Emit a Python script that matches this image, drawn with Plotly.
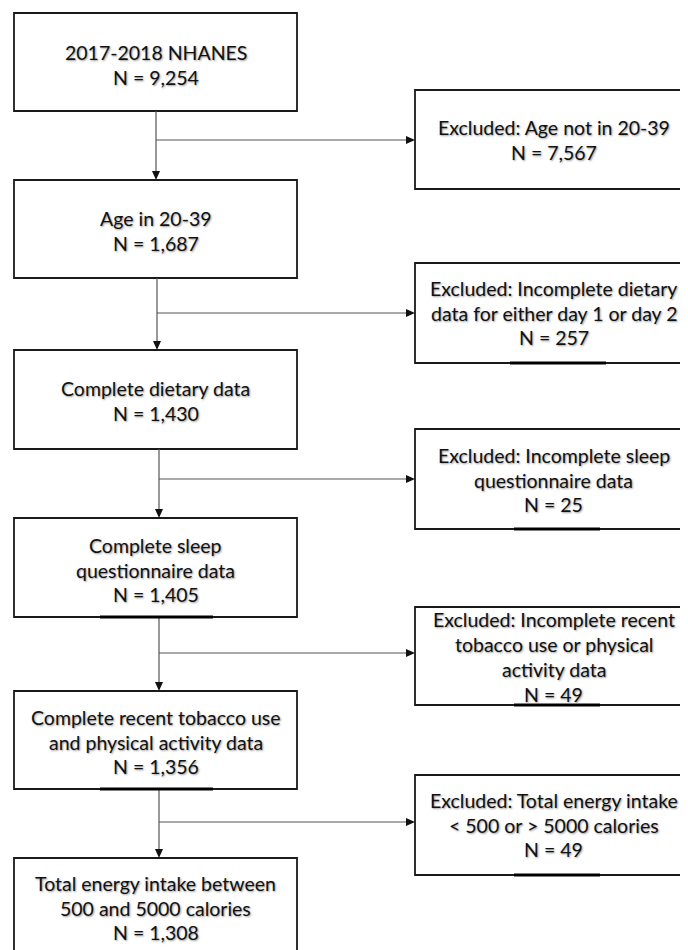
import plotly.graph_objects as go

# ---- data (text content) ----
main_labels = [
    "2017-2018 NHANES",
    "Age in 20-39",
    "Complete dietary data",
    "Complete sleep<br>questionnaire data",
    "Complete recent tobacco use<br>and physical activity data",
    "Total energy intake between<br>500 and 5000 calories",
]
main_n = [9254, 1687, 1430, 1405, 1356, 1308]

excl_labels = [
    "Excluded: Age not in 20-39",
    "Excluded: Incomplete dietary<br>data for either day 1 or day 2",
    "Excluded: Incomplete sleep<br>questionnaire data",
    "Excluded: Incomplete recent<br>tobacco use or physical<br>activity data",
    "Excluded: Total energy intake<br>&lt; 500 or &gt; 5000 calories",
]
excl_n = [7567, 257, 25, 49, 49]

# ---- layout geometry (page pixels, y downward) ----
W, H = 688, 950
OFF = 8  # html body margin
main_x = (14, 297)
main_y = [(13, 111), (180, 278), (350, 449), (518, 617), (691, 789), (858, 965)]
main_tc = [65, 231, 401, 570, 742, 908]
excl_x = (415, 692)
excl_y = [(90, 189), (263, 363), (429, 529), (607, 705), (775, 875)]
excl_tc = [140, 313, 480, 657, 825]
trunk_x = [156, 157, 159, 159, 159]
branch_y = [140, 313, 479, 653, 822]
underlines = [(100, 213, 617), (100, 213, 789), (510, 606, 363),
              (514, 600, 529), (514, 600, 705), (514, 600, 875)]

LINE_SP = 24.8
FONT = dict(family="Lato, 'Open Sans', sans-serif", size=19.5, color="#111111",
            shadow="1px 1px 2px #9a9a9a")
BOX_LINE = dict(color="#1a1a1a", width=1.8)
CONN_LINE = dict(color="#555555", width=1.2)

fig = go.Figure()
shapes = []
annotations = []


def add_text(lines, cx, cy):
    n = len(lines)
    for i, t in enumerate(lines):
        y = cy + (i - (n - 1) / 2) * LINE_SP
        annotations.append(dict(x=cx, y=y, xref="x", yref="y", text=t,
                                showarrow=False, xanchor="center",
                                yanchor="middle", font=FONT))


# main boxes
for lab, n, (y0, y1), tc in zip(main_labels, main_n, main_y, main_tc):
    shapes.append(dict(type="rect", xref="x", yref="y", x0=main_x[0], x1=main_x[1],
                       y0=y0, y1=y1, line=BOX_LINE, fillcolor="white", layer="below"))
    lines = lab.split("<br>") + [f"N = {n:,}"]
    add_text(lines, (main_x[0] + main_x[1]) / 2, tc)

# exclusion boxes
for lab, n, (y0, y1), tc in zip(excl_labels, excl_n, excl_y, excl_tc):
    shapes.append(dict(type="rect", xref="x", yref="y", x0=excl_x[0], x1=excl_x[1],
                       y0=y0, y1=y1, line=BOX_LINE, fillcolor="white", layer="below"))
    lines = lab.split("<br>") + [f"N = {n:,}"]
    add_text(lines, (excl_x[0] + excl_x[1]) / 2, tc)

# connectors
for i, tx in enumerate(trunk_x):
    top = main_y[i][1]
    bot = main_y[i + 1][0]
    shapes.append(dict(type="line", xref="x", yref="y", x0=tx, x1=tx, y0=top, y1=bot - 6,
                       line=CONN_LINE))
    shapes.append(dict(type="path", xref="x", yref="y",
                       path=f"M {tx-4} {bot-9} L {tx+4} {bot-9} L {tx} {bot} Z",
                       fillcolor="#111111", line=dict(width=0)))
    by = branch_y[i]
    shapes.append(dict(type="line", xref="x", yref="y", x0=tx, x1=excl_x[0] - 6,
                       y0=by, y1=by, line=CONN_LINE))
    ax = excl_x[0]
    shapes.append(dict(type="path", xref="x", yref="y",
                       path=f"M {ax-9} {by-4} L {ax-9} {by+4} L {ax} {by} Z",
                       fillcolor="#111111", line=dict(width=0)))

# thicker underline artefacts on some borders
for x0, x1, y in underlines:
    shapes.append(dict(type="line", xref="x", yref="y", x0=x0, x1=x1, y0=y, y1=y,
                       line=dict(color="#000000", width=3.2)))

fig.update_layout(
    width=W - OFF, height=H - OFF,
    margin=dict(l=0, r=0, t=0, b=0),
    paper_bgcolor="white", plot_bgcolor="white",
    xaxis=dict(range=[OFF, W], visible=False, fixedrange=True),
    yaxis=dict(range=[H, OFF], visible=False, fixedrange=True),
    shapes=shapes, annotations=annotations, showlegend=False,
)

fig.write_html("out.html")
